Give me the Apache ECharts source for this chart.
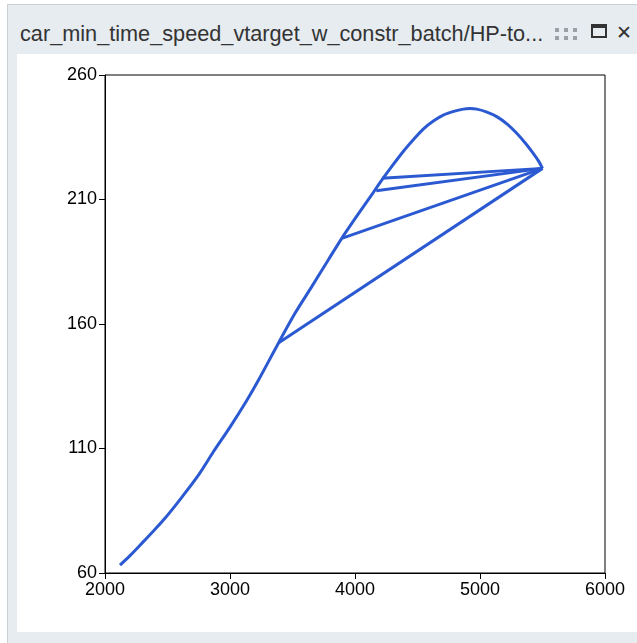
<!DOCTYPE html>
<html>
<head>
<meta charset="utf-8">
<script src="https://cdn.jsdelivr.net/npm/echarts@6/dist/echarts.min.js"></script>
<style>
html,body{margin:0;padding:0;width:637px;height:643px;background:#fff;overflow:hidden;font-family:"Liberation Sans",Arial,sans-serif;}
#win{position:absolute;left:7px;top:4px;width:640px;height:650px;background:#e6ecf0;border:1px solid #c9d0d5;box-sizing:border-box;}
#title{position:absolute;left:20px;top:21px;font-size:21.7px;color:#333;white-space:nowrap;}
.dot{position:absolute;width:4px;height:4px;background:#9aa0a6;}
#maxi{position:absolute;left:591px;top:24px;width:16px;height:14px;border:2px solid #333;border-top-width:4px;box-sizing:border-box;}
#close{position:absolute;left:616px;top:21px;font-size:19px;color:#333;font-family:"DejaVu Sans",sans-serif;}
#panel{position:absolute;left:17px;top:54px;width:620px;height:578px;background:#fff;}
#chart{position:absolute;left:0;top:0;width:620px;height:578px;}
</style>
</head>
<body>
<div id="win"></div>
<div id="title">car_min_time_speed_vtarget_w_constr_batch/HP-to...</div>
<div class="dot" style="left:555px;top:28px"></div>
<div class="dot" style="left:564px;top:28px"></div>
<div class="dot" style="left:573px;top:28px"></div>
<div class="dot" style="left:555px;top:36px"></div>
<div class="dot" style="left:564px;top:36px"></div>
<div class="dot" style="left:573px;top:36px"></div>
<div id="maxi"></div>
<div id="close">✕</div>
<div id="panel"><div id="chart"></div></div>
<script>
// Main power curve (rpm vs HP)
var curveRpm = [2120, 2200, 2294, 2380, 2480, 2614, 2746, 2866, 3000, 3134, 3226, 3386, 3520, 3654, 3786, 3894, 4014, 4146, 4200, 4290, 4386, 4470, 4546, 4630, 4706, 4790, 4866, 4920, 4974, 5050, 5134, 5220, 5294, 5370, 5426, 5470, 5500];
var curveHp  = [63.2, 67.0, 71.9, 76.5, 82.0, 90.4, 99.2, 108.6, 118.6, 129.3, 137.3, 152.2, 164.3, 175.0, 185.7, 194.4, 203.3, 212.8, 216.8, 223.0, 229.3, 234.2, 238.3, 241.6, 243.9, 245.4, 246.3, 246.5, 246.3, 245.2, 243.3, 240.2, 236.6, 232.2, 228.5, 225.3, 222.5];
// Gear-shift lines: from the top of the curve back down to these landing points
var shiftRpm = [3390, 3900, 4170, 4215];
var shiftHp  = [152.5, 194.5, 213.5, 218.5];
var xTicks = [2000, 3000, 4000, 5000, 6000];
var yTicks = [60, 110, 160, 210, 260];

var color = '#2b59d1';
var curve = [];
for (var i = 0; i < curveRpm.length; i++) curve.push([curveRpm[i], curveHp[i]]);
var topPt = curve[curve.length - 1];
var series = [{
  type: 'line', data: curve, showSymbol: false, symbol: 'none', smooth: 0.3,
  lineStyle: {color: color, width: 3}, itemStyle: {color: color}
}];
for (var s = 0; s < shiftRpm.length; s++) {
  series.push({
    type: 'line', data: [topPt, [shiftRpm[s], shiftHp[s]]], showSymbol: false, symbol: 'none', smooth: false,
    lineStyle: {color: color, width: 3}, itemStyle: {color: color}
  });
}

var chart = echarts.init(document.getElementById('chart'), null, {renderer: 'canvas'});
var lab = {color: '#000', fontSize: 18, fontFamily: 'Liberation Sans, Arial, sans-serif', formatter: function (v) { return String(v); }};
chart.setOption({
  animation: false,
  grid: {left: 88, top: 21, width: 500, height: 498, show: true, borderColor: '#000', borderWidth: 1, backgroundColor: 'transparent'},
  xAxis: {
    type: 'value', min: xTicks[0], max: xTicks[xTicks.length - 1], interval: 1000,
    axisLine: {show: true, lineStyle: {color: '#000', width: 1}},
    axisTick: {show: true, length: 6, lineStyle: {color: '#000'}},
    splitLine: {show: false},
    axisLabel: Object.assign({margin: 8, showMinLabel: true, showMaxLabel: true}, lab)
  },
  yAxis: {
    type: 'value', min: yTicks[0], max: yTicks[yTicks.length - 1], interval: 50,
    axisLine: {show: true, lineStyle: {color: '#000', width: 1}},
    axisTick: {show: true, length: 6, lineStyle: {color: '#000'}},
    splitLine: {show: false},
    axisLabel: Object.assign({margin: 8, showMinLabel: true, showMaxLabel: true}, lab)
  },
  series: series
});
</script>
</body>
</html>
